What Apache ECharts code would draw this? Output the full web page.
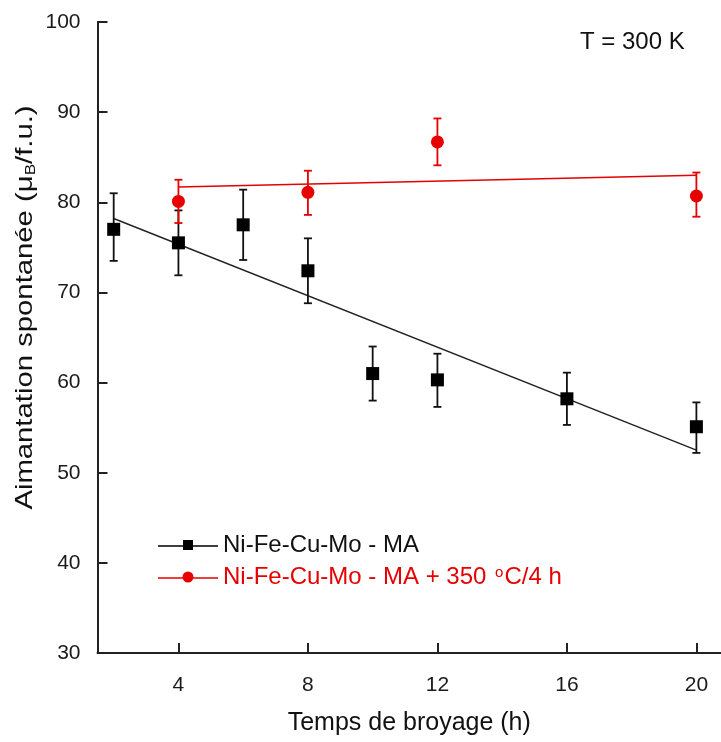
<!DOCTYPE html>
<html>
<head>
<meta charset="utf-8">
<script src="https://cdn.jsdelivr.net/npm/echarts@6/dist/echarts.min.js"></script>
<style>
html,body{margin:0;padding:0;background:#fff;}
#chart{width:721px;height:742px;}
</style>
</head>
<body>
<div id="chart"></div>
<script>
// ---- data ----
const xTicks = [4, 8, 12, 16, 20];
const yTicks = [30, 40, 50, 60, 70, 80, 90, 100];

const maX = [2, 4, 6, 8, 10, 12, 16, 20];
const maValues = [77.0, 75.5, 77.5, 72.4, 61.0, 60.3, 58.2, 55.1];
const maUpper  = [81.0, 79.1, 81.4, 76.0, 64.0, 63.2, 61.1, 57.8];
const maLower  = [73.5, 71.9, 73.6, 68.8, 58.0, 57.3, 55.3, 52.2];

const annX = [4, 8, 12, 20];
const annValues = [80.1, 81.1, 86.7, 80.7];
const annUpper  = [82.5, 83.5, 89.3, 83.3];
const annLower  = [77.7, 78.6, 84.1, 78.4];

const maFitX = [2, 20];
const maFitY = [78.2, 52.5];
const annFitX = [4, 20];
const annFitY = [81.7, 83.0];

const nameMA = 'Ni-Fe-Cu-Mo - MA';
const nameAnn = 'Ni-Fe-Cu-Mo - MA + 350 °C/4 h';
const xTitle = 'Temps de broyage (h)';
const yTitleMain = 'Aimantation spontanée (μ';
const yTitleSub = 'B';
const yTitleEnd = '/f.u.)';
const tempLabel = 'T = 300 K';

// ---- build ----
const FONT = "'Liberation Sans', Arial, sans-serif";
const RED = '#e60000';
const zip = (a, b) => a.map((v, i) => [v, b[i]]);
const zip3 = (a, b, c) => a.map((v, i) => [v, b[i], c[i]]);

function errRender(color) {
  return function (params, api) {
    const x = api.value(0);
    const top = api.coord([x, api.value(2)]);
    const bot = api.coord([x, api.value(1)]);
    const w = 4;
    const st = { stroke: color, lineWidth: 1.8 };
    return {
      type: 'group',
      children: [
        { type: 'line', shape: { x1: top[0], y1: top[1], x2: bot[0], y2: bot[1] }, style: st },
        { type: 'line', shape: { x1: top[0] - w, y1: top[1], x2: top[0] + w, y2: top[1] }, style: st },
        { type: 'line', shape: { x1: bot[0] - w, y1: bot[1], x2: bot[0] + w, y2: bot[1] }, style: st }
      ]
    };
  };
}

const chart = echarts.init(document.getElementById('chart'), null, { renderer: 'canvas' });
chart.setOption({
  backgroundColor: '#fff',
  animation: false,
  textStyle: { fontFamily: FONT },
  grid: { left: 97.5, top: 22, bottom: 89, right: 0, containLabel: false },
  xAxis: {
    type: 'value', min: 1.5, max: 20.76,
    name: xTitle, nameLocation: 'middle', nameGap: 58,
    nameTextStyle: { fontSize: 25, color: '#111', fontFamily: FONT },
    axisLine: { lineStyle: { color: '#222', width: 2 } },
    axisTick: { inside: true, length: 10, customValues: xTicks, lineStyle: { color: '#222', width: 2 } },
    axisLabel: { customValues: xTicks, fontSize: 21, color: '#1a1a1a', margin: 22, fontFamily: FONT },
    splitLine: { show: false }
  },
  yAxis: {
    type: 'value', min: 30, max: 100, interval: 10,
    axisLine: { show: true, lineStyle: { color: '#222', width: 2 } },
    axisTick: { show: true, inside: true, length: 10, lineStyle: { color: '#222', width: 2 } },
    axisLabel: { fontSize: 21, color: '#1a1a1a', margin: 17, fontFamily: FONT },
    splitLine: { show: false }
  },
  legend: {
    orient: 'vertical', left: 153, top: 528,
    itemWidth: 60, itemHeight: 14, itemGap: 8,
    data: [
      { name: nameMA, icon: 'path://M0,6.3h60v1.4H0z M25,1h10v10H25z' },
      { name: nameAnn, icon: 'path://M0,6.3h60v1.4H0z M35.5,6a5.5,5.5 0 1,1 -11,0a5.5,5.5 0 1,1 11,0z' }
    ],
    formatter: function (n) {
      if (n === nameMA) return '{k|' + nameMA + '}';
      return '{r|Ni-Fe-Cu-Mo - MA + 350 }{rs|o}{r|C/4 h}';
    },
    textStyle: {
      fontFamily: FONT, fontSize: 24,
      rich: {
        k: { fontSize: 24, lineHeight: 24, color: '#111', fontFamily: FONT },
        r: { fontSize: 24, lineHeight: 24, color: RED, fontFamily: FONT },
        rs: { fontSize: 15, lineHeight: 15, verticalAlign: 'top', color: RED, fontFamily: FONT, padding: [0, 1, 0, 2] }
      }
    }
  },
  graphic: [
    { type: 'text', left: 580, top: 30, style: { text: tempLabel, font: "24px 'Liberation Sans', Arial, sans-serif", fill: '#111' } },
    {
      type: 'text', x: 25, y: 307.5, rotation: Math.PI / 2, scaleX: 1.22, scaleY: 1,
      style: {
        text: '{a|' + yTitleMain + '}{b|' + yTitleSub + '}{a|' + yTitleEnd + '}',
        align: 'center', verticalAlign: 'middle',
        rich: {
          a: { fontSize: 24, lineHeight: 26, fill: '#111', fontFamily: FONT },
          b: { fontSize: 14, lineHeight: 14, verticalAlign: 'bottom', fill: '#111', fontFamily: FONT }
        }
      }
    }
  ],
  series: [
    { type: 'line', data: zip(maFitX, maFitY), symbol: 'none', lineStyle: { color: '#222', width: 1.4 }, silent: true, z: 2 },
    { type: 'custom', data: zip3(maX, maLower, maUpper), renderItem: errRender('#111'), z: 3, silent: true },
    { type: 'scatter', name: nameMA, data: zip(maX, maValues), symbol: 'rect', symbolSize: 13, itemStyle: { color: '#000', opacity: 1 }, z: 4 },
    { type: 'line', data: zip(annFitX, annFitY), symbol: 'none', lineStyle: { color: RED, width: 1.6 }, silent: true, z: 5 },
    { type: 'custom', data: zip3(annX, annLower, annUpper), renderItem: errRender(RED), z: 6, silent: true },
    { type: 'scatter', name: nameAnn, data: zip(annX, annValues), symbol: 'circle', symbolSize: 13, itemStyle: { color: RED, opacity: 1 }, z: 7 }
  ]
});
</script>
</body>
</html>
